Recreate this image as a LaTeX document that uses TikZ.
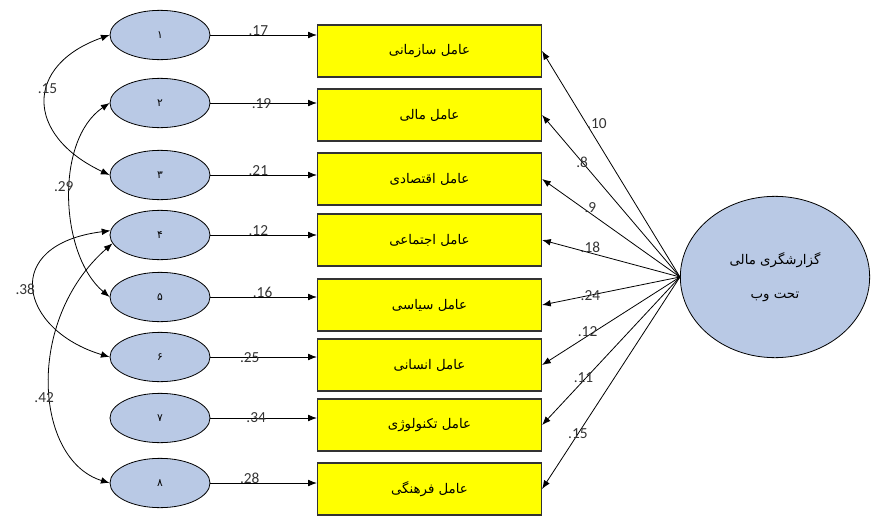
\documentclass[tikz,border=0pt]{standalone}
\usepackage{fontspec}
\setmainfont{Carlito}
\newfontfamily\fa[Script=Arabic]{DejaVu Sans}
\TeXXeTstate=1
\usepackage{tikz}
\usetikzlibrary{shapes.geometric,arrows.meta}
\definecolor{errblue}{RGB}{185,201,229}
\definecolor{boxyellow}{RGB}{255,255,0}

\begin{document}
\begin{tikzpicture}[x=0.75pt,y=-0.75pt,
	errnode/.style={draw,ellipse,fill=errblue,line width=0.6pt,minimum width=75pt,minimum height=37pt,inner sep=0pt,font=\fa\footnotesize},
	factor/.style={draw=black!80,rectangle,fill=boxyellow,line width=0.9pt,minimum width=168pt,minimum height=39pt,inner sep=0pt,font=\fa\normalsize},
	coef/.style={font=\fontsize{11.5}{12}\selectfont,text=black!80,inner sep=0.5pt},
	arr/.style={-{Latex[length=6.5pt,width=5pt]},line width=0.6pt},
	cov/.style={{Latex[length=6.5pt,width=5pt]}-{Latex[length=6.5pt,width=5pt]},line width=0.6pt}]
	\useasboundingbox (0,0) rectangle (871,518);

	\node[errnode] (e1) at (160,35){۱};
	\node[errnode] (e2) at (160,103){۲};
	\node[errnode] (e3) at (160,175){۳};
	\node[errnode] (e4) at (160,235){۴};
	\node[errnode] (e5) at (160,297){۵};
	\node[errnode] (e6) at (160,357){۶};
	\node[errnode] (e7) at (160,418){۷};
	\node[errnode] (e8) at (160,483){۸};

	\node[factor] (f1) at (429.5,51){\beginR عامل سازمانی\endR};
	\node[factor] (f2) at (429.5,115){\beginR عامل مالی\endR};
	\node[factor] (f3) at (429.5,179){\beginR عامل اقتصادی\endR};
	\node[factor] (f4) at (429.5,240){\beginR عامل اجتماعی\endR};
	\node[factor] (f5) at (429.5,305){\beginR عامل سیاسی\endR};
	\node[factor] (f6) at (429.5,365){\beginR عامل انسانی\endR};
	\node[factor] (f7) at (429.5,425){\beginR عامل تکنولوژی\endR};
	\node[factor] (f8) at (429.5,489){\beginR عامل فرهنگی\endR};

	\node[draw,ellipse,fill=errblue,line width=0.6pt,minimum width=142pt,minimum height=121pt,align=center,font=\fa\normalsize] (web) at (775,277)
		{\beginR گزارشگری مالی\endR\\[13pt]\beginR تحت وب\endR};

	\draw[arr] (e1.east) -- (e1.east -| f1.west) node[coef,pos=0.45,anchor=south,yshift=-1pt]{.17};
	\draw[arr] (e2.east) -- (e2.east -| f2.west) node[coef,pos=0.48,anchor=south,yshift=-5pt]{.19};
	\draw[arr] (e3.east) -- (e3.east -| f3.west) node[coef,pos=0.45,anchor=south,yshift=-1pt]{.21};
	\draw[arr] (e4.east) -- (e4.east -| f4.west) node[coef,pos=0.45,anchor=south,yshift=-1pt]{.12};
	\draw[arr] (e5.east) -- (e5.east -| f5.west) node[coef,pos=0.49,anchor=south,yshift=-1pt]{.16};
	\draw[arr] (e6.east) -- (e6.east -| f6.west) node[coef,pos=0.37,anchor=south,yshift=-5pt]{.25};
	\draw[arr] (e7.east) -- (e7.east -| f7.west) node[coef,pos=0.43,anchor=south,yshift=-4pt]{.34};
	\draw[arr] (e8.east) -- (e8.east -| f8.west) node[coef,pos=0.37,anchor=south,yshift=-1pt]{.28};

	\draw[arr] (web.west) -- (f1.east) node[coef,pos=0.68,xshift=8pt]{.10};
	\draw[arr] (web.west) -- (f2.east) node[coef,pos=0.71]{.8};
	\draw[arr] (web.west) -- (f3.east) node[coef,pos=0.65,yshift=4pt]{.9};
	\draw[arr] (web.west) -- (f4.east) node[coef,pos=0.65,yshift=4pt]{.18};
	\draw[arr] (web.west) -- (f5.east) node[coef,pos=0.65]{.24};
	\draw[arr] (web.west) -- (f6.east) node[coef,pos=0.67,yshift=3pt]{.12};
	\draw[arr] (web.west) -- (f7.east) node[coef,pos=0.70,yshift=2pt]{.11};
	\draw[arr] (web.west) -- (f8.east) node[coef,pos=0.74]{.15};

	\draw[cov] (e1.west) .. controls +(-85,30) and +(-85,-40) .. (e3.west) node[coef,pos=0.42]{.15};
	\draw[cov] (e2.west) .. controls +(-55,37) and +(-50,-42) .. (e5.west) node[coef,pos=0.45,xshift=-5pt]{.29};
	\draw[cov] (e4.175) .. controls +(-111,14) and +(-90,-27) .. (e6.west) node[coef,pos=0.5,xshift=-7pt]{.38};
	\draw[cov] (e4.190) .. controls +(-88,77) and +(-75,-23) .. (e8.west) node[coef,pos=0.55,xshift=-5pt]{.42};
\end{tikzpicture}
\end{document}
